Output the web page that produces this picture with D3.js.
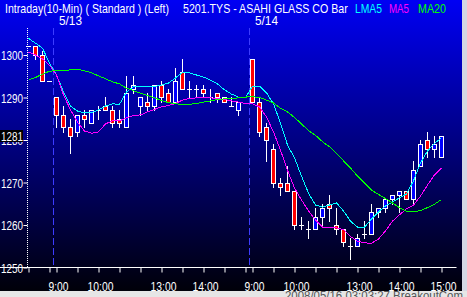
<!DOCTYPE html>
<html><head><meta charset="utf-8">
<script src="https://cdn.jsdelivr.net/npm/d3@7"></script>
<style>html,body{margin:0;padding:0;background:#000;overflow:hidden}</style>
</head><body><svg id="c" width="467" height="297"></svg>
<script>
// ---------- data ----------
const sessionTimes = ["9:00","9:10","9:20","9:30","9:40","9:50","10:00","10:10","10:20","10:30","10:40","10:50",
  "12:30","12:40","12:50","13:00","13:10","13:20","13:30","13:40","13:50","14:00","14:10","14:20","14:30","14:40","14:50","15:00"];
const prevTimes = ["14:30","14:40","14:50","15:00"];
const days = ["5/12","5/13","5/14"];
const times = prevTimes.concat(sessionTimes, sessionTimes);
const dates = prevTimes.map(() => days[0]).concat(sessionTimes.map(() => days[1]), sessionTimes.map(() => days[2]));

const opens = [1302,1302,1300,1294,
  1290,1286,1283,1282,1286,1284,1287,1288,1287,1285,1283,1292,
  1288,1289,1288,1293,1291,1289,1296,1292,1292,1292,1290,1291,1290,1288,1287,null,
  1299,1289,1283,1278,1270,1270,1268,1260,1259,1259,1262,1265,
  1260,1259,1255,1255,1258,1258,1263,1264,1266,1267,1268,1266,1274,1280,1278,1276];
const highs = [1302,1302,1301,1294,
  1290,1288,1285,1286,1287,1287,1288,1290,1288,1287,1295,1295,
  1290,1291,1293,1294,1292,1297,1299,1294,1293,1293,1292,1291,1290,1290,1289,null,
  1299,1290,1284,1279,1271,1274,1268,1262,1261,1264,1265,1267,
  1264,1259,1257,1258,1261,1265,1264,1266,1267,1268,1268,1275,1280,1282,1281,1281];
const lows = [1302,1299,1294,1294,
  1283,1282,1277,1281,1283,1284,1285,1287,1283,1283,1283,1291,
  1286,1287,1287,1289,1289,1289,1292,1290,1290,1290,1289,1289,1289,1288,1286,null,
  1289,1281,1275,1269,1267,1268,1259,1259,1257,1259,1260,1261,
  1258,1255,1252,1255,1257,1258,1262,1263,1265,1263,1266,1265,1274,1276,1276,1276];
const closes = [1302,1300,1294,1294,
  1286,1283,1281,1286,1285,1287,1287,1287,1284,1284,1291,1293,
  1290,1288,1293,1290,1289,1294,1292,1292,1292,1291,1290,1290,1289,1288,1289,null,
  1289,1282,1280,1270,1269,1268,1260,1260,1259,1262,1264,1264,
  1259,1256,1255,1257,1258,1263,1264,1266,1267,1268,1266,1273,1279,1278,1279,1281];

const lma5 = [1303.9,1302.8,1301.6,1298.1,1295.3,1291.3,1288.0,1286.8,1286.4,1286.4,1287.1,1288.0,1288.5,
  1288.4,1291.3,1292.5,1292.5,1292.5,1292.6,1292.9,1293.4,1294.6,1295.9,1295.8,1295.3,1294.8,1294.1,1293.2,1291.8,1290.8,1290.1,1290.0,
  1292.7,1292.7,1291.1,1288.5,1284.0,1278.8,1275.8,1271.5,1267.5,1264.7,1264.2,1264.7,1265.2,1263.3,1260.9,1259.5,1259.5,1261.4,1263.1,1264.5,1265.4,1266.4,1267.3,1270.4,1274.6,1277.4,1279.2,1280.5];
const ma5 = [1300.7,1300.0,1299.1,1297.6,1295.3,1290.6,1287.1,1284.2,1282.1,1281.6,1281.9,1283.8,1284.5,
  1284.5,1285.2,1285.8,1285.9,1286.6,1287.2,1287.8,1288.1,1288.6,1289.4,1289.8,1289.9,1290.0,1289.9,1289.8,1289.5,1289.2,1288.9,1288.6,
  1288.5,1287.8,1285.4,1281.9,1277.6,1272.9,1268.7,1265.9,1263.3,1261.2,1259.5,1259.4,1259.3,1258.9,1257.3,1256.2,1255.8,1255.7,1256.7,1258.6,1260.9,1262.4,1263.8,1264.7,1266.8,1269.4,1271.8,1273.4];
const ma20 = [1294.1,1294.7,1295.5,1296.2,1296.3,1296.3,1296.5,1296.6,1296.3,1295.8,1295.1,1294.4,1293.7,
  1293.2,1292.2,1291.6,1291.0,1290.5,1289.9,1289.3,1288.8,1288.5,1288.4,1288.4,1288.6,1288.9,1289.2,1289.5,1289.7,1289.8,1289.9,1290.1,
  1290.2,1290.0,1289.4,1288.7,1287.5,1286.6,1285.3,1283.8,1282.2,1281.1,1279.6,1278.4,1276.9,1275.1,1273.4,1271.5,1269.9,1268.2,1267.2,1266.2,1265.2,1264.1,1263.2,1263.1,1263.4,1264.1,1264.9,1266.0];

const yTicks = [1250,1260,1270,1280,1290,1300];
const xLabelTimes = ["9:00","10:00","13:00","14:00"];
const lastLabel = "15:00";
const lastPrice = 1281;
const titleLeft = "Intraday(10-Min) ( Standard )  (Left)";
const titleSym = "5201.TYS - ASAHI GLASS CO  Bar";
const legend = [["LMA5","#00ffff"],["MA5","#ff00ff"],["MA20","#00ff00"]];
const footer = "2008/05/16 03:03:27 BreakoutCom";

// ---------- drawing ----------
const W = 467, H = 297;
const svg = d3.select("#c");
const font = "'Liberation Sans', Arial, sans-serif";
const defs = svg.append("defs");
const g = defs.append("linearGradient").attr("id","bg").attr("x1",0).attr("y1",0).attr("x2",0).attr("y2",1);
g.append("stop").attr("offset","0%").attr("stop-color","#0000f4");
g.append("stop").attr("offset","100%").attr("stop-color","#000004");
svg.append("rect").attr("width",W).attr("height",H).attr("fill","url(#bg)");

// squeeze a text horizontally to a target width (narrow bitmap-style font)
function fit(sel, px, py_, target, anchor) {
  sel.attr("x", 0).attr("y", 0).attr("text-anchor", "start");
  const w = sel.node().getComputedTextLength();
  const s = w > 0 ? target / w : 1;
  const x0 = anchor === "end" ? px - target : anchor === "middle" ? px - target / 2 : px;
  sel.attr("transform", `translate(${x0},${py_}) scale(${s},1)`);
}
function label(parent, txt, px, py_, target, color, size, anchor) {
  const t = parent.append("text").attr("fill", color).attr("font-family", font).attr("font-size", size).text(txt);
  fit(t, px, py_, target, anchor);
  return t;
}

const n = closes.length;
const x = d3.scaleLinear().domain([0, n - 1]).range([28, 441]);
const y = d3.scaleLinear().domain([1250, 1300]).range([267.5, 55]);
const py = v => Math.round(y(v));

// day separators
const dayStarts = d3.range(1, n).filter(i => dates[i] !== dates[i - 1]);
svg.selectAll("line.sep").data(dayStarts).join("line")
  .attr("x1", i => x(i) - 2.5).attr("x2", i => x(i) - 2.5)
  .attr("y1", 28).attr("y2", 267)
  .attr("stroke", "#3c3cff").attr("stroke-width", 1).attr("stroke-dasharray", "7,3");
dayStarts.filter(i => i > 1).forEach(i => label(svg, dates[i], x(i) + 3, 25, 23, "#fff", 13));

// y axis
const yAxis = d3.axisLeft(y).tickValues(yTicks).tickSize(4).tickFormat(d3.format("d"));
const ya = svg.append("g").attr("transform", "translate(27.5,0)").call(yAxis);
ya.select(".domain").attr("stroke", "#fff").attr("stroke-dasharray", "1,1").attr("d", "M0,28V267");
ya.selectAll(".tick line").attr("stroke", "#fff");
ya.selectAll(".tick text").each(function(d) {
  const t = d3.select(this).attr("fill", "#fff").attr("font-family", font).attr("font-size", 12.5).attr("dy", null);
  fit(t, -4.5, 4.5, 22, "end");
});

// x axis
const tickIdx = d3.range(n).filter(i => /:(00|30)$/.test(times[i]));
const labelOf = i => i === n - 1 ? lastLabel : (xLabelTimes.includes(times[i]) && dates[i] !== days[0] ? times[i] : "");
const xAxis = d3.axisBottom(x).tickValues(tickIdx).tickSize(5).tickFormat(labelOf);
const xa = svg.append("g").attr("transform", "translate(0.5,267.5)").call(xAxis);
xa.select(".domain").attr("stroke", "#fff").attr("d", "M-1.5,0H456");
xa.selectAll(".tick line").attr("stroke", "#fff");
xa.selectAll(".tick text").each(function(i) {
  const t = d3.select(this).attr("fill", "#fff").attr("font-family", font).attr("font-size", 13.5).attr("dy", null);
  const s = labelOf(i);
  if (s) fit(t, 1.5, 23, s.length === 4 ? 20 : 26, "middle");
});

// candles
const idx = d3.range(n).filter(i => closes[i] !== null);
const cg = svg.append("g");
cg.selectAll("line.wick").data(idx).join("line")
  .attr("x1", i => x(i) + 0.5).attr("x2", i => x(i) + 0.5)
  .attr("y1", i => py(highs[i])).attr("y2", i => py(lows[i]) + 1)
  .attr("stroke", "#fff");
const bodies = idx.filter(i => opens[i] !== closes[i]);
cg.selectAll("rect.body").data(bodies).join("rect")
  .attr("x", i => x(i) - 1.5)
  .attr("y", i => py(Math.max(opens[i], closes[i])) + 0.5)
  .attr("width", 4)
  .attr("height", i => Math.max(2, py(Math.min(opens[i], closes[i])) - py(Math.max(opens[i], closes[i]))))
  .attr("fill", i => closes[i] > opens[i] ? "#0000ff" : "#ff0000")
  .attr("stroke", "#fff").attr("stroke-width", 1);
const dojis = idx.filter(i => opens[i] === closes[i]);
cg.selectAll("line.doji").data(dojis).join("line")
  .attr("x1", i => x(i) - 2).attr("x2", i => x(i) + 3)
  .attr("y1", i => py(closes[i]) + 0.5).attr("y2", i => py(closes[i]) + 0.5)
  .attr("stroke", "#fff");

// MA lines
const line = d3.line().x((d, i) => x(i) + 0.5).y(d => y(d));
[[lma5, "#00ffff"], [ma5, "#ff00ff"], [ma20, "#00ff00"]].forEach(([s, c]) => {
  svg.append("path").datum(s).attr("d", line).attr("fill", "none")
    .attr("stroke", c).attr("stroke-width", 1).attr("shape-rendering", "crispEdges");
});

// last price marker
svg.append("rect").attr("x", 0).attr("y", py(lastPrice) - 6).attr("width", 23).attr("height", 12).attr("fill", "#000");
label(svg, String(lastPrice), 1, py(lastPrice) + 4.5, 22, "#fff", 12.5);

// header
label(svg, titleLeft, 5, 13, 164, "#fff", 13);
label(svg, titleSym, 183, 13, 165, "#fff", 13);
const legX = [355, 389, 418], legW = [27, 20, 28];
legend.forEach(([t, c], k) => label(svg, t, legX[k], 13, legW[k], c, 13));

// window frame strips
svg.append("rect").attr("x", 462).attr("y", 0).attr("width", 5).attr("height", H).attr("fill", "#d4d8e4");
svg.append("rect").attr("x", 0).attr("y", 291).attr("width", W).attr("height", 6).attr("fill", "#e6e6e6");
label(svg, footer, 285, 300, 178, "#555", 12);
</script></body></html>
